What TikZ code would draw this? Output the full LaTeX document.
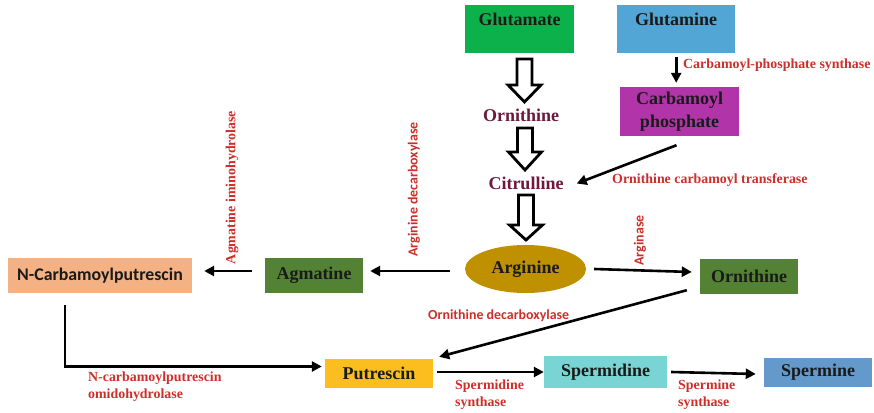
\documentclass[tikz,border=0pt]{standalone}
\usepackage{fontspec}
\setmainfont{Liberation Serif}
\newfontfamily\calfont{Carlito}
\usetikzlibrary{arrows.meta,calc,shapes.geometric}

\definecolor{ink}{HTML}{1A1A1A}
\definecolor{enzred}{HTML}{CE2F2A}
\definecolor{maroon}{HTML}{6B1A3C}
\definecolor{glucol}{HTML}{0DB14B}
\definecolor{glncol}{HTML}{52A6D6}
\definecolor{cpcol}{HTML}{B135A9}
\definecolor{argcol}{HTML}{BF9000}
\definecolor{leaf}{HTML}{548235}
\definecolor{ncpcol}{HTML}{F4B183}
\definecolor{putcol}{HTML}{FBBE1E}
\definecolor{spdcol}{HTML}{78D5D3}
\definecolor{spmcol}{HTML}{6499CC}

% block arrow pointing down: x, top, start of head, tip
\newcommand\hollowarrow[4]{%
  \draw[hollow] ({#1-7.5},#2) -- ({#1+7.5},#2) -- ({#1+7.5},#3) -- ({#1+16.5},#3)
    -- (#1,#4) -- ({#1-16.5},#3) -- ({#1-7.5},#3) -- cycle;}

\begin{document}
\begin{tikzpicture}[x=1pt,y=-1pt,
  box/.style={draw=none, inner sep=0pt, text=ink,
    font=\fontsize{18}{21}\selectfont\bfseries},
  sansbox/.style={box, font=\fontsize{17.8}{21}\calfont\selectfont\bfseries},
  midtext/.style={inner sep=0pt, text=maroon,
    font=\fontsize{18}{21}\selectfont\bfseries},
  arr/.style={line width=2.6pt, -{Triangle[length=10pt,width=10pt]}},
  enz/.style={text=enzred, inner sep=0pt, align=left,
    font=\fontsize{13.9}{17}\selectfont\bfseries},
  enzsans/.style={enz, font=\fontsize{13.9}{17}\calfont\selectfont\bfseries},
  hollow/.style={draw=black, fill=white, line width=2.8pt, line join=miter},
]
\fill[white] (0,0) rectangle (874,412);
\useasboundingbox (0,0) rectangle (874,412);

% --- compounds ---
\node[box, fill=glucol, anchor=north west, minimum width=109pt,
      text height=20pt, text depth=28pt] (glu) at (465,5) {Glutamate};
\node[box, fill=glncol, anchor=north west, minimum width=118pt,
      text height=20pt, text depth=28pt] (gln) at (617,5) {Glutamine};
\node[box, fill=cpcol, minimum width=119pt, minimum height=49pt, align=center]
      (cp) at (679.5,111.5) {Carbamoyl\\[1.5pt]phosphate};
\node[midtext] (orn1) at (521,115.5) {Ornithine};
\node[midtext] (cit) at (526,183.5) {Citrulline};
\node[box, ellipse, fill=argcol, minimum width=121pt, minimum height=48pt]
      (arg) at (525.5,269) {Arginine};
\node[box, fill=leaf, minimum width=98pt, minimum height=35pt]
      (orn2) at (749,276.5) {Ornithine};
\node[box, fill=leaf, minimum width=98pt, minimum height=35pt]
      (agm) at (314,275.5) {Agmatine};
\node[sansbox, fill=ncpcol, minimum width=184pt, minimum height=35pt]
      (ncp) at (100,275.5) {N-Carbamoylputrescin};
\node[box, fill=putcol, minimum width=108pt, minimum height=29pt]
      (put) at (379,373.5) {Putrescin};
\node[box, fill=spdcol, minimum width=123pt, minimum height=32pt]
      (spd) at (605.5,372) {Spermidine};
\node[box, fill=spmcol, minimum width=108pt, minimum height=29pt]
      (spm) at (818,372.5) {Spermine};

% --- block arrows of the main chain ---
\hollowarrow{524.5}{59}{85}{102}
\hollowarrow{525}{128}{152}{170}
\hollowarrow{526}{195}{225}{240}

% --- reaction arrows ---
\draw[arr, shorten <=4pt, shorten >=4pt] (gln.south) -- (gln.south |- cp.north);
\draw[arr] ($(cp.south)+(-3,9)$) -- ($(cit.east)+(13,0)$);
\draw[arr] ($(arg.west)+(-15,2)$) -- ($(agm.east |- arg.west)+(7,2)$);
\draw[arr] ($(agm.west)+(-13,-4.5)$) -- ($(ncp.east)+(12,-4.5)$);
\draw[arr] ($(arg.east)+(8,0)$) -- ($(orn2.west)+(-8,-4.5)$);
\draw[arr] ($(orn2.south west)+(-13,-4)$) -- ($(put.north east)+(6,-2)$);
\draw[arr] ($(ncp.south west)+(57,12)$) |- ($(put.west)+(-3,-7)$);
\draw[arr] ($(put.east)+(4,-1.5)$) -- (spd.west);
\draw[arr] ($(spd.east)+(4,0)$) -- ($(spm.west)+(-8,1.5)$);

% --- enzymes ---
\node[enz, anchor=west] (e1) at (683,65) {Carbamoyl-phosphate synthase};
\node[enz, anchor=west] (e2) at (612,180) {Ornithine carbamoyl transferase};
\node[enzsans, anchor=west] (e3) at (428,316) {Ornithine decarboxylase};
\node[enz, anchor=west] (e4) at (88,386.5) {N-carbamoylputrescin\\omidohydrolase};
\node[enz, anchor=west] (e5) at (455,394.5) {Spermidine\\synthase};
\node[enz, anchor=west] (e6) at (678,394.5) {Spermine\\synthase};
\node[enz, rotate=90] (e7) at (232,187.5) {Agmatine iminohydrolase};
\node[enzsans, rotate=90] (e8) at (414,189.5) {Arginine decarboxylase};
\node[enzsans, rotate=90] (e9) at (640,240.5) {Arginase};
\end{tikzpicture}
\end{document}
